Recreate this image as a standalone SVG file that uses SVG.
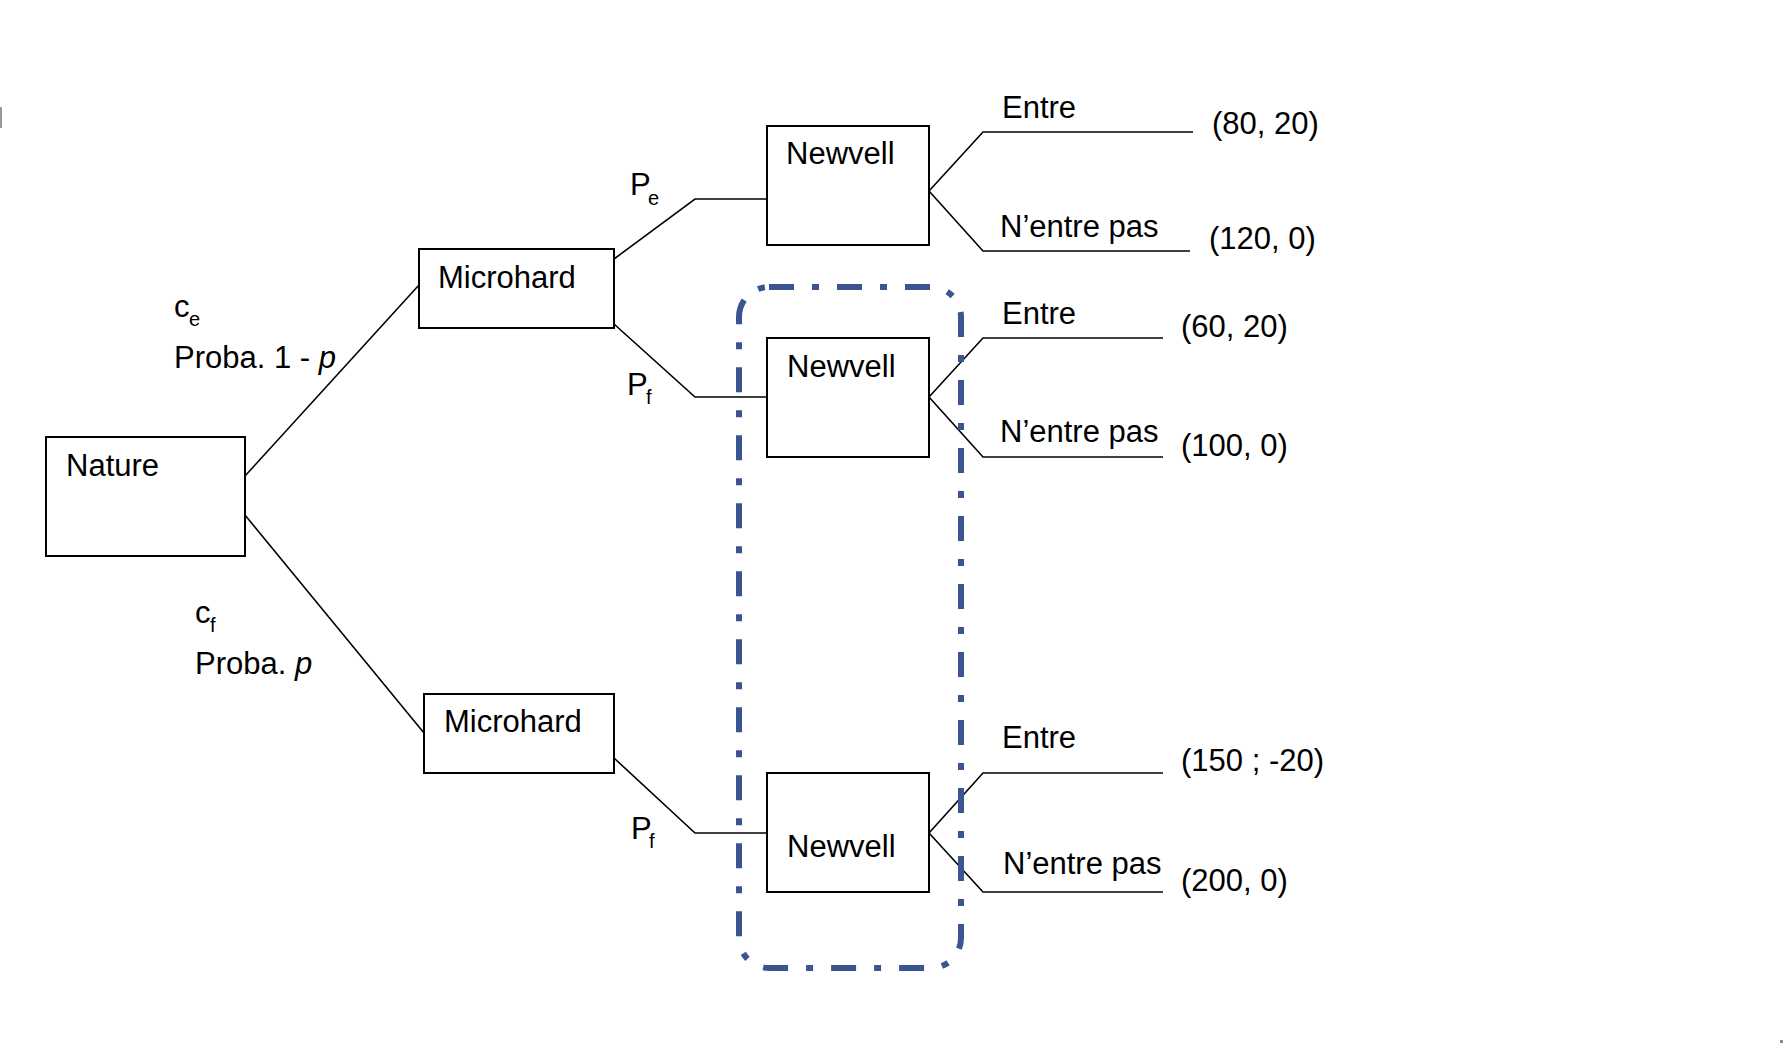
<svg xmlns="http://www.w3.org/2000/svg" width="1784" height="1050" viewBox="0 0 1784 1050">
<style>
.box{fill:#fff;stroke:#000;stroke-width:2}
.con{fill:none;stroke:#000;stroke-width:1.6}
.t{font-family:"Liberation Sans",Arial,sans-serif;font-size:31px;fill:#000}
.sub{font-family:"Liberation Sans",Arial,sans-serif;font-size:20px;fill:#000}
.grp{fill:none;stroke:#3B5590;stroke-width:6;stroke-dasharray:25 18 7 18}
</style>
<rect width="1784" height="1050" fill="#fff"/>
<line x1="1" y1="107" x2="1" y2="128" stroke="#777" stroke-width="1.5"/>
<rect x="1780" y="1040" width="3" height="3" fill="#888"/>

<g id="connectors">
<polyline class="con" points="245,476 419,285"/>
<polyline class="con" points="245,515 424,733"/>
<polyline class="con" points="614,259 695,199 767,199"/>
<polyline class="con" points="614,324 695,397 767,397"/>
<polyline class="con" points="614,758 695,833 767,833"/>
<polyline class="con" points="929,191 983,132 1193,132"/>
<polyline class="con" points="929,191 983,251 1190,251"/>
<polyline class="con" points="929,397 983,338 1163,338"/>
<polyline class="con" points="929,397 983,457 1163,457"/>
<polyline class="con" points="929,833 983,773 1163,773"/>
<polyline class="con" points="929,833 983,892 1163,892"/>
</g>

<g id="labels">
<text class="t" x="174" y="317">c</text><text class="sub" x="189" y="326">e</text>
<text class="t" x="174" y="368">Proba. 1 - <tspan font-style="italic">p</tspan></text>
<text class="t" x="195" y="623">c</text><text class="sub" x="210" y="632">f</text>
<text class="t" x="195" y="674">Proba. <tspan font-style="italic">p</tspan></text>
<text class="t" x="630" y="195">P</text><text class="sub" x="648" y="205">e</text>
<text class="t" x="627" y="395">P</text><text class="sub" x="646" y="404">f</text>
<text class="t" x="631" y="839">P</text><text class="sub" x="649" y="848">f</text>
<text class="t" x="1002" y="118">Entre</text>
<text class="t" x="1000" y="237">N’entre pas</text>
<text class="t" x="1002" y="324">Entre</text>
<text class="t" x="1000" y="442">N’entre pas</text>
<text class="t" x="1002" y="748">Entre</text>
<text class="t" x="1003" y="874">N’entre pas</text>
<text class="t" x="1212" y="134">(80, 20)</text>
<text class="t" x="1209" y="249">(120, 0)</text>
<text class="t" x="1181" y="337">(60, 20)</text>
<text class="t" x="1181" y="456">(100, 0)</text>
<text class="t" x="1181" y="771">(150 ; -20)</text>
<text class="t" x="1181" y="891">(200, 0)</text>
</g>

<g id="nature"><rect class="box" x="46" y="437" width="199" height="119"/><text class="t" x="66" y="476">Nature</text></g>
<g id="microhard-top"><rect class="box" x="419" y="249" width="195" height="79"/><text class="t" x="438" y="288">Microhard</text></g>
<g id="microhard-bottom"><rect class="box" x="424" y="694" width="190" height="79"/><text class="t" x="444" y="732">Microhard</text></g>
<g id="newvell-top"><rect class="box" x="767" y="126" width="162" height="119"/><text class="t" x="786" y="164">Newvell</text></g>
<g id="newvell-mid"><rect class="box" x="767" y="338" width="162" height="119"/><text class="t" x="787" y="377">Newvell</text></g>
<g id="newvell-bottom"><rect class="box" x="767" y="773" width="162" height="119"/><text class="t" x="787" y="857">Newvell</text></g>

<g id="info-set"><rect class="grp" x="739" y="287" width="222" height="681" rx="30"/></g>
</svg>
